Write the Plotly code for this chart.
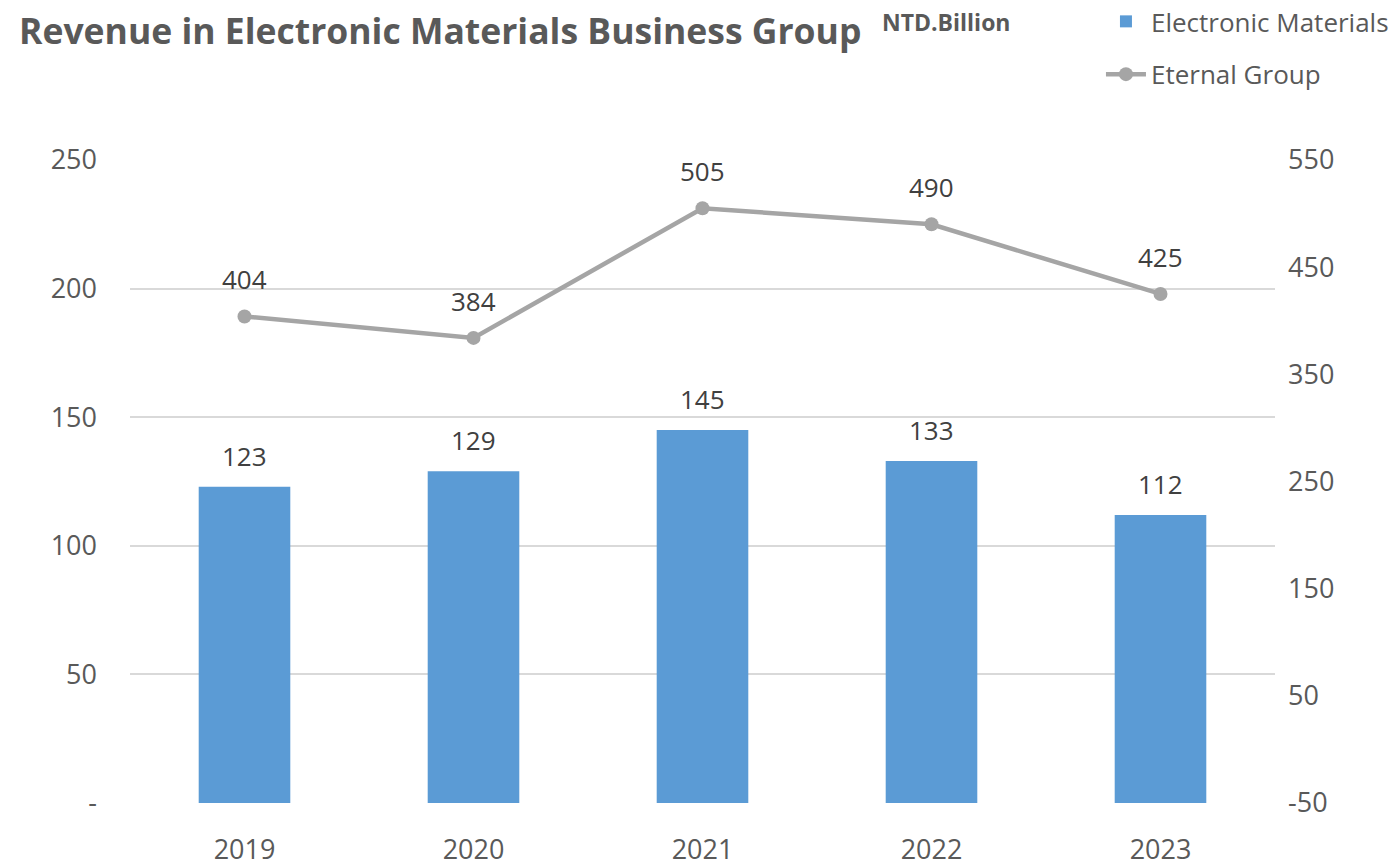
import plotly.graph_objects as go

years = ["2019", "2020", "2021", "2022", "2023"]
electronic = [123, 129, 145, 133, 112]
eternal = [404, 384, 505, 490, 425]
left_ticks = [0, 50, 100, 150, 200, 250]
left_labels = ["-", "50", "100", "150", "200", "250"]
right_ticks = [-50, 50, 150, 250, 350, 450, 550]
right_labels = ["-50", "50", "150", "250", "350", "450", "550"]

FONT = "Open Sans, Noto Sans, sans-serif"
GRAY = "#595959"
LABEL = "#404040"

fig = go.Figure()
fig.add_trace(go.Bar(
    x=years, y=electronic, name="Electronic Materials",
    marker=dict(color="#5B9BD5", line=dict(width=0)),
    width=0.4, legendgroup="a",
))
fig.add_trace(go.Scatter(
    x=years, y=eternal, name="Eternal Group", yaxis="y2",
    mode="lines+markers",
    line=dict(color="#A5A5A5", width=4.5),
    marker=dict(color="#A5A5A5", size=14),
    legendgroup="b",
))

# data labels (category axis: annotations positioned by category index)
for i, v in enumerate(electronic):
    fig.add_annotation(x=i, y=v, xref="x", yref="y", text=str(v), showarrow=False,
                       yanchor="middle", yshift=31,
                       font=dict(size=26, color=LABEL, family=FONT))
for i, v in enumerate(eternal):
    fig.add_annotation(x=i, y=v, xref="x", yref="y2", text=str(v), showarrow=False,
                       yanchor="middle", yshift=37,
                       font=dict(size=26, color=LABEL, family=FONT))

fig.update_layout(
    width=1399, height=865,
    margin=dict(l=130, r=124, t=160, b=62, autoexpand=False),
    paper_bgcolor="white", plot_bgcolor="white",
    font=dict(family=FONT, color=GRAY, size=26),
    showlegend=True,
    legend=dict(x=0.848, xanchor="left", y=1.252, yanchor="top",
                font=dict(size=26, color=GRAY), tracegroupgap=16,
                traceorder="grouped", itemwidth=40, bgcolor="rgba(0,0,0,0)"),
    xaxis=dict(type="category", range=[-0.5, len(years) - 0.5],
               showgrid=False, showline=False, ticks="",
               ticklabelstandoff=28, tickfont=dict(size=27, color=GRAY)),
    yaxis=dict(range=[0, 250], tickvals=left_ticks, ticktext=left_labels,
               showgrid=True, gridcolor="#D9D9D9", gridwidth=1.5, zeroline=False,
               tickfont=dict(size=27, color=GRAY), ticks="", ticklabelstandoff=32),
    yaxis2=dict(range=[-50, 550], tickvals=right_ticks, ticktext=right_labels,
                overlaying="y", side="right", showgrid=False, zeroline=False,
                tickfont=dict(size=27, color=GRAY), ticks="", ticklabelstandoff=12),
    bargap=0.6,
)
fig.add_annotation(xref="paper", yref="paper", x=-0.099, y=1 + 130 / 643,
                   xanchor="left", yanchor="middle", showarrow=False,
                   text="<b>Revenue in Electronic Materials Business Group</b>",
                   font=dict(size=35.5, color=GRAY, family=FONT))
fig.add_annotation(xref="paper", yref="paper", x=(880 - 130) / 1145, y=1 + 138 / 643,
                   xanchor="left", yanchor="middle", showarrow=False,
                   text="<b>NTD.Billion</b>",
                   font=dict(size=23, color=GRAY, family=FONT))
fig.write_html("out.html", config={"displayModeBar": False},
               post_script="document.body.style.margin='0';document.body.style.overflow='hidden';")
